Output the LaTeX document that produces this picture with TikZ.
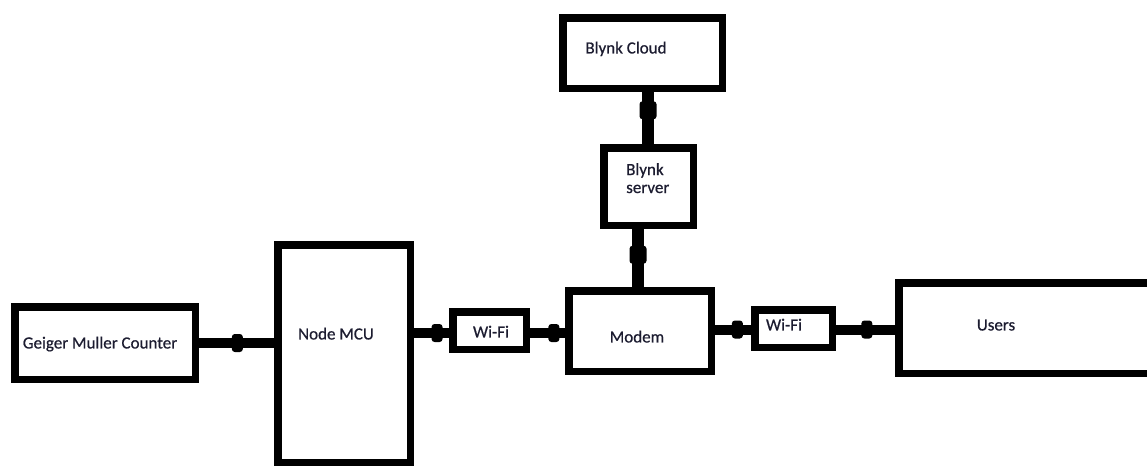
\documentclass[tikz,border=0pt]{standalone}
\usepackage{fontspec}
\setmainfont{Carlito}
\newfontfamily\lblfont{Carlito}[FakeBold=0.6]
\usetikzlibrary{decorations.markings}
\definecolor{txt}{HTML}{1C1C30}
\tikzset{
  box/.style={draw=black, line width=7.5pt, fill=white, inner sep=0pt, outer sep=0pt},
  lbl/.style={inner sep=0pt, text height=10.9pt, text depth=0pt, text=txt,
    font=\lblfont\fontsize{17}{18}\selectfont},
  conn/.style={line width=10pt, draw=black, postaction={decorate},
    decoration={markings, mark=at position #1 with {\fill[black, rounded corners=3pt] (-5.5pt,-9pt) rectangle (5.5pt,9pt);}}},
  vconn/.style={line width=11.5pt, draw=black, postaction={decorate},
    decoration={markings, mark=at position #1 with {\fill[black, rounded corners=3pt] (-9pt,-8.5pt) rectangle (9pt,8.5pt);}}},
}
\begin{document}
\begin{tikzpicture}[x=1pt,y=-1pt]
\useasboundingbox (0,0) rectangle (1147,466);
\coordinate (c1) at (0,343);
\coordinate (c2) at (0,333);
\coordinate (c3) at (0,329.5);
\coordinate (c4) at (638,0);
\coordinate (c5) at (648,0);
% boxes
\node[box, minimum width=180.5pt, minimum height=72.5pt] (gm) at (105,343) {};
\node[box, minimum width=132.5pt, minimum height=217.5pt] (mcu) at (344,353.5) {};
\node[box, minimum width=73.5pt, minimum height=37.5pt] (wifi1) at (489.5,330.5) {};
\node[box, minimum width=142.5pt, minimum height=80.5pt] (modem) at (640,331) {};
\node[box, minimum width=77.5pt, minimum height=37.5pt] (wifi2) at (793.5,328.5) {};
\node[box, minimum width=257.5pt, minimum height=90.5pt] (users) at (1027.5,328) {};
\node[box, minimum width=89.5pt, minimum height=77.5pt] (server) at (648.5,186.5) {};
\node[box, minimum width=159.5pt, minimum height=70.5pt] (cloud) at (642.5,53) {};
% connectors
\draw[conn=0.51] (gm.east |- c1) -- (mcu.west |- c1);
\draw[conn=0.63] (mcu.east |- c2) -- (wifi1.west |- c2);
\draw[conn=0.65] (wifi1.east |- c2) -- (modem.west |- c2);
\draw[conn=0.6] (modem.east |- c3) -- (wifi2.west |- c3);
\draw[conn=0.52] (wifi2.east |- c3) -- (users.west |- c3);
\draw[vconn=0.55] (c4 |- modem.north) -- (c4 |- server.south);
\draw[vconn=0.63] (c5 |- server.north) -- (c5 |- cloud.south);
% labels
\node[lbl] (tgm) at (100,343) {Geiger Muller Counter};
\node[lbl] (tmcu) at (336,334) {Node MCU};
\node[lbl] (tw1) at (491,332) {Wi-Fi};
\node[lbl] (tmodem) at (637,337) {Modem};
\node[lbl] (tw2) at (784,325) {Wi-Fi};
\node[lbl] (tusers) at (996,325) {Users};
\node[lbl, text height=, text depth=, align=left, anchor=north west] (tserver) at (626,163) {Blynk\\server};
\node[lbl] (tcloud) at (626,48) {Blynk Cloud};
\end{tikzpicture}
\end{document}
